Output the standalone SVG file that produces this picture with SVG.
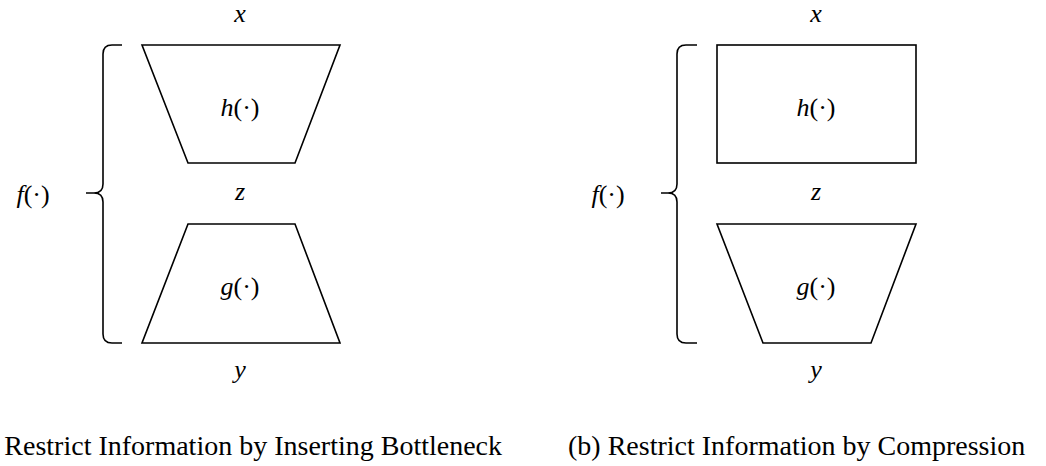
<svg xmlns="http://www.w3.org/2000/svg" width="1046" height="466" viewBox="0 0 1046 466">
<style>
.shape{fill:none;stroke:#000;stroke-width:1.6;stroke-linejoin:miter}
.brace{fill:none;stroke:#000;stroke-width:1.6;stroke-linecap:butt}
.m{font-family:"Liberation Serif","Times New Roman",serif;font-size:26px;text-anchor:middle;fill:#000}
.m .i{font-style:italic}
.cap{font-family:"Liberation Serif","Times New Roman",serif;font-size:28px;fill:#000}
</style>
<rect width="1046" height="466" fill="#fff"/>
<g id="panel-a">
  <g id="a-x"><text class="m" x="240" y="22"><tspan class="i">x</tspan></text></g>
  <g id="a-h"><polygon class="shape" points="142,45 340,45 295,163 188,163"/><text class="m" x="240" y="116"><tspan class="i">h</tspan>(·)</text></g>
  <g id="a-z"><text class="m" x="240" y="200"><tspan class="i">z</tspan></text></g>
  <g id="a-g"><polygon class="shape" points="188,224 295,224 340,343 142,343"/><text class="m" x="240" y="295"><tspan class="i">g</tspan>(·)</text></g>
  <g id="a-y"><text class="m" x="240" y="378"><tspan class="i">y</tspan></text></g>
  <g id="a-f"><text class="m" x="33" y="203"><tspan class="i">f</tspan>(·)</text></g>
  <g id="a-brace"><path class="brace" d="M122,45 H112 Q103,45 103,54 V184 Q103,193 94,193 H86 M94,193 Q103,193 103,202 V334 Q103,343 112,343 H122"/></g>
  <g id="a-caption"><text class="cap" x="502" y="455" text-anchor="end">(a) Restrict Information by Inserting Bottleneck</text></g>
</g>
<g id="panel-b">
  <g id="b-x"><text class="m" x="816" y="22"><tspan class="i">x</tspan></text></g>
  <g id="b-h"><rect class="shape" x="717" y="45" width="199" height="118"/><text class="m" x="816" y="116"><tspan class="i">h</tspan>(·)</text></g>
  <g id="b-z"><text class="m" x="816" y="200"><tspan class="i">z</tspan></text></g>
  <g id="b-g"><polygon class="shape" points="717,224 916,224 871,343 763,343"/><text class="m" x="816" y="295"><tspan class="i">g</tspan>(·)</text></g>
  <g id="b-y"><text class="m" x="816" y="378"><tspan class="i">y</tspan></text></g>
  <g id="b-f"><text class="m" x="608" y="203"><tspan class="i">f</tspan>(·)</text></g>
  <g id="b-brace"><path class="brace" d="M697,45 H686 Q677,45 677,54 V184 Q677,193 668,193 H661 M668,193 Q677,193 677,202 V334 Q677,343 686,343 H697"/></g>
  <g id="b-caption"><text class="cap" x="568" y="455">(b) Restrict Information by Compression</text></g>
</g>
<g id="connectors"/>
</svg>
